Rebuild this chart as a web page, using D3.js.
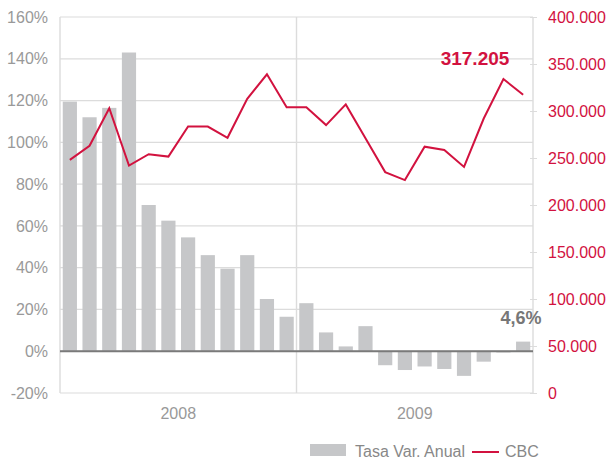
<!DOCTYPE html>
<html lang="es">
<head>
<meta charset="UTF-8">
<title>CBC</title>
<script src="https://d3js.org/d3.v7.min.js"></script>
<style>
  body { margin: 0; background: #fff; }
  text { font-family: "Liberation Sans", Arial, sans-serif; }
</style>
</head>
<body>
<script>
// meses (24) y años
var months = ['2008-01','2008-02','2008-03','2008-04','2008-05','2008-06','2008-07','2008-08','2008-09','2008-10','2008-11','2008-12',
              '2009-01','2009-02','2009-03','2009-04','2009-05','2009-06','2009-07','2009-08','2009-09','2009-10','2009-11','2009-12'];
var years = ['2008', '2009'];
// Tasa Var. Anual (%)
var tasa = [119.5, 112, 116.5, 143, 70, 62.5, 54.5, 46, 39.5, 46, 25, 16.5,
            23, 9, 2.3, 12, -6.7, -9, -7.3, -8.5, -11.8, -5, -0.6, 4.6];
// CBC
var cbc = [248000, 263000, 303000, 242000, 254000, 251500, 283500, 283500, 271500, 313000, 339000, 304000,
           304000, 285000, 307000, 271000, 235000, 226500, 262000, 258500, 240500, 292000, 334000, 317205];
var leftTicks = [-20, 0, 20, 40, 60, 80, 100, 120, 140, 160];
var rightTicks = [0, 50000, 100000, 150000, 200000, 250000, 300000, 350000, 400000];

var width = 611, height = 462;
var pLeft = 60, pRight = 533, pTop = 17, pBottom = 393; // área del gráfico
var red = '#d2123f', grey = '#c6c7c9', txt = '#999';

var es = d3.formatLocale({decimal: ',', thousands: '.', grouping: [3], currency: ['', '']});
var fmtK = es.format(',d');

var svg = d3.select('body').append('svg').attr('width', width).attr('height', height);

var x = d3.scaleBand().domain(months).range([pLeft, pRight]).paddingInner(0.28).paddingOuter(0.14);
var yL = d3.scaleLinear().domain([-20, 160]).range([pBottom, pTop]);
var yR = d3.scaleLinear().domain([0, 400000]).range([pBottom, pTop]);

// rejilla horizontal
svg.append('g').selectAll('line').data(leftTicks).enter().append('line')
    .attr('x1', pLeft).attr('x2', pRight)
    .attr('y1', d => yL(d)).attr('y2', d => yL(d))
    .attr('stroke', '#dcdcdc').attr('stroke-width', 1.2);

// líneas verticales: eje izq, separador de años, eje der
var xSep = x('2009-01') - x.step() * x.paddingInner() / 2;
svg.append('g').selectAll('line').data([pLeft, xSep, pRight]).enter().append('line')
    .attr('x1', d => d).attr('x2', d => d)
    .attr('y1', pTop).attr('y2', pBottom)
    .attr('stroke', '#dcdcdc').attr('stroke-width', 1.4);

// ejes
var axL = svg.append('g').attr('transform', 'translate(' + pLeft + ',0)')
    .call(d3.axisLeft(yL).tickValues(leftTicks).tickSize(0).tickPadding(12).tickFormat(d => d + '%'));
axL.select('.domain').remove();
axL.selectAll('text').attr('fill', txt).attr('font-size', 16);

var axR = svg.append('g').attr('transform', 'translate(' + pRight + ',0)')
    .call(d3.axisRight(yR).tickValues(rightTicks).tickSize(4).tickPadding(11).tickFormat(d => fmtK(d)));
axR.select('.domain').remove();
axR.selectAll('line').attr('stroke', '#dcdcdc').attr('x1', -3);
axR.selectAll('text').attr('fill', red).attr('font-size', 16);

// barras
svg.append('g').selectAll('rect').data(tasa).enter().append('rect')
    .attr('fill', grey)
    .attr('x', (d, i) => x(months[i]))
    .attr('width', x.bandwidth())
    .attr('y', d => yL(Math.max(0, d)))
    .attr('height', d => Math.abs(yL(d) - yL(0)));

// línea del cero
svg.append('line')
    .attr('x1', pLeft).attr('x2', pRight)
    .attr('y1', yL(0)).attr('y2', yL(0))
    .attr('stroke', '#7a7a7a').attr('stroke-width', 2);

// línea CBC
var line = d3.line()
    .x((d, i) => x(months[i]) + x.bandwidth() / 2)
    .y(d => yR(d));
svg.append('path').datum(cbc)
    .attr('d', line)
    .attr('fill', 'none').attr('stroke', red).attr('stroke-width', 2);

// etiquetas de años
svg.append('g').selectAll('text').data(years).enter().append('text')
    .attr('x', (d, i) => i == 0 ? (pLeft + xSep) / 2 : (xSep + pRight) / 2)
    .attr('y', 419)
    .attr('text-anchor', 'middle')
    .attr('fill', txt).attr('font-size', 16)
    .text(d => d);

// valores destacados
var last = cbc.length - 1;
svg.append('text')
    .attr('x', 475).attr('y', 65)
    .attr('text-anchor', 'middle')
    .attr('fill', red).attr('font-size', 19).attr('font-weight', 'bold')
    .text(fmtK(cbc[last]));
svg.append('text')
    .attr('x', 521).attr('y', 324)
    .attr('text-anchor', 'middle')
    .attr('fill', '#777').attr('font-size', 18).attr('font-weight', 'bold')
    .text(es.format('.1f')(tasa[last]) + '%');

// leyenda
var lg = svg.append('g');
lg.append('rect').attr('x', 310).attr('y', 444).attr('width', 36).attr('height', 12).attr('fill', grey);
lg.append('text').attr('x', 355).attr('y', 457).attr('fill', '#888').attr('font-size', 16).text('Tasa Var. Anual');
lg.append('line').attr('x1', 472).attr('x2', 499).attr('y1', 452).attr('y2', 452).attr('stroke', red).attr('stroke-width', 2);
lg.append('text').attr('x', 505).attr('y', 457).attr('fill', '#888').attr('font-size', 16).text('CBC');
</script>
</body>
</html>
